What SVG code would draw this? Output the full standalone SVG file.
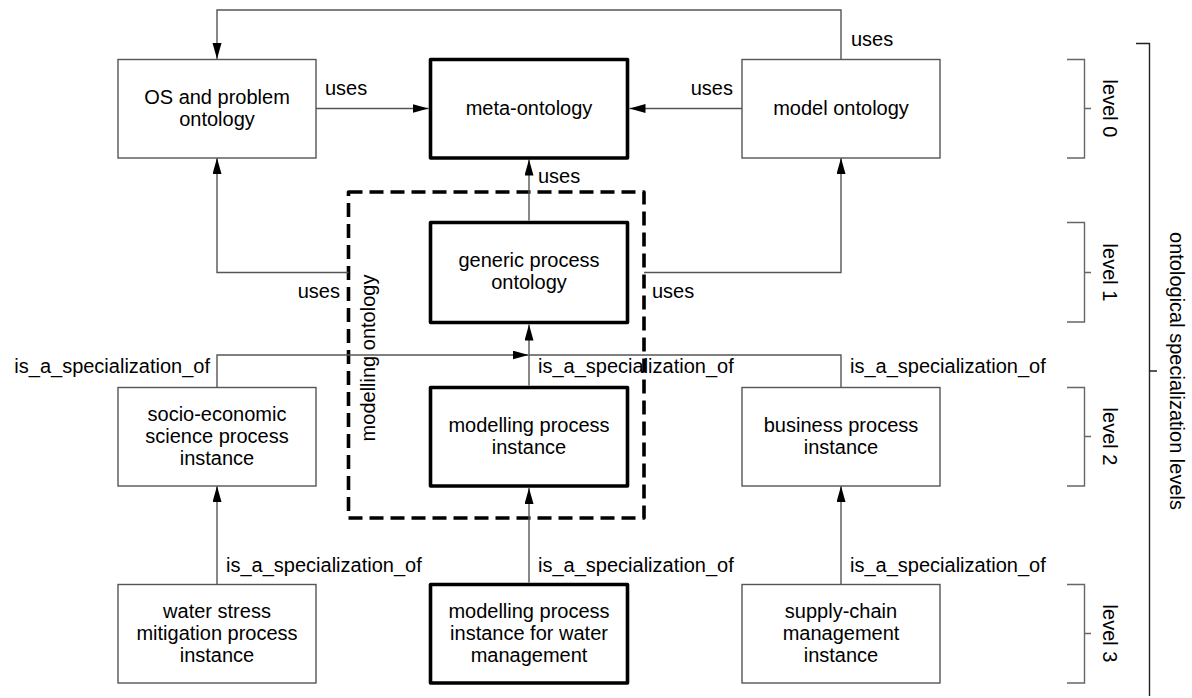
<svg xmlns="http://www.w3.org/2000/svg" width="1192" height="698" viewBox="0 0 1192 698">
  <defs>
    <style>
      text { font-family: "Liberation Sans", Arial, sans-serif; font-size: 20px; fill: #000; }
      .c { text-anchor: middle; }
      .e { text-anchor: end; }
      .box { fill: #fff; stroke: #555; stroke-width: 1.4; }
      .tbox { fill: #fff; stroke: #000; stroke-width: 3.6; stroke-linejoin: round; }
      .conn { fill: none; stroke: #555; stroke-width: 1.4; }
      .dash { fill: none; stroke: #000; stroke-width: 3.6; stroke-dasharray: 14 7; stroke-linejoin: round; }
      .brk { fill: none; stroke: #666; stroke-width: 1.4; }
      .bigbrk { fill: none; stroke: #222; stroke-width: 1.4; }
    </style>
    <marker id="arr" markerUnits="userSpaceOnUse" markerWidth="17" markerHeight="10" refX="16" refY="4.5" orient="auto">
      <path d="M0,0 L16,4.5 L0,9 z" fill="#000"/>
    </marker>
  </defs>
  <rect width="1192" height="698" fill="#fff"/>

  <g id="modelling-ontology">
    <rect class="dash" x="348.5" y="192" width="295.5" height="326"/>
    <text transform="translate(375,358) rotate(-90)" class="c">modelling ontology</text>
  </g>

  <g id="connectors">
    <polyline class="conn" points="841,59.5 841,10 217,10 217,59" marker-end="url(#arr)"/>
    <line class="conn" x1="316" y1="108.5" x2="428.5" y2="108.5" marker-end="url(#arr)"/>
    <line class="conn" x1="742" y1="108.5" x2="629.5" y2="108.5" marker-end="url(#arr)"/>
    <line class="conn" x1="529" y1="220.5" x2="529" y2="159.5" marker-end="url(#arr)"/>
    <polyline class="conn" points="348.5,272.5 217,272.5 217,158" marker-end="url(#arr)"/>
    <polyline class="conn" points="644,272.5 841,272.5 841,158" marker-end="url(#arr)"/>
    <polyline class="conn" points="217,387.5 217,355 528.5,355" marker-end="url(#arr)"/>
    <polyline class="conn" points="841,387.5 841,355 529,355"/>
    <line class="conn" x1="529" y1="385.5" x2="529" y2="324.5" marker-end="url(#arr)"/>
    <line class="conn" x1="529" y1="582.5" x2="529" y2="488" marker-end="url(#arr)"/>
    <line class="conn" x1="217" y1="584.5" x2="217" y2="486" marker-end="url(#arr)"/>
    <line class="conn" x1="841" y1="584.5" x2="841" y2="486" marker-end="url(#arr)"/>

    <text x="851" y="46">uses</text>
    <text x="325" y="95">uses</text>
    <text x="733" y="95" class="e">uses</text>
    <text x="538" y="183">uses</text>
    <text x="340" y="298" class="e">uses</text>
    <text x="652" y="298">uses</text>
    <text x="210" y="373" class="e">is_a_specialization_of</text>
    <text x="538" y="373">is_a_specialization_of</text>
    <text x="850" y="373">is_a_specialization_of</text>
    <text x="226" y="572">is_a_specialization_of</text>
    <text x="538" y="572">is_a_specialization_of</text>
    <text x="850" y="572">is_a_specialization_of</text>
  </g>

  <g id="os-problem-ontology">
    <rect class="box" x="118" y="59.5" width="198" height="98.5"/>
    <text x="217" y="104" class="c">OS and problem</text>
    <text x="217" y="126" class="c">ontology</text>
  </g>
  <g id="meta-ontology">
    <rect class="tbox" x="430.5" y="59.5" width="197" height="98.5"/>
    <text x="529" y="115" class="c">meta-ontology</text>
  </g>
  <g id="model-ontology">
    <rect class="box" x="742" y="59.5" width="198" height="98.5"/>
    <text x="841" y="115" class="c">model ontology</text>
  </g>
  <g id="generic-process-ontology">
    <rect class="tbox" x="430.5" y="222.5" width="197" height="100"/>
    <text x="529" y="266.5" class="c">generic process</text>
    <text x="529" y="288.5" class="c">ontology</text>
  </g>
  <g id="socio-economic">
    <rect class="box" x="118" y="387.5" width="198" height="98.5"/>
    <text x="217" y="421" class="c">socio-economic</text>
    <text x="217" y="443" class="c">science process</text>
    <text x="217" y="465" class="c">instance</text>
  </g>
  <g id="modelling-process-instance">
    <rect class="tbox" x="430.5" y="387.5" width="197" height="98.5"/>
    <text x="529" y="431.5" class="c">modelling process</text>
    <text x="529" y="453.5" class="c">instance</text>
  </g>
  <g id="business-process-instance">
    <rect class="box" x="742" y="387.5" width="198" height="98.5"/>
    <text x="841" y="431.5" class="c">business process</text>
    <text x="841" y="453.5" class="c">instance</text>
  </g>
  <g id="water-stress">
    <rect class="box" x="118" y="584.5" width="198" height="98.5"/>
    <text x="217" y="618" class="c">water stress</text>
    <text x="217" y="640" class="c">mitigation process</text>
    <text x="217" y="662" class="c">instance</text>
  </g>
  <g id="modelling-water-management">
    <rect class="tbox" x="430.5" y="584.5" width="197" height="98.5"/>
    <text x="529" y="618" class="c">modelling process</text>
    <text x="529" y="640" class="c">instance for water</text>
    <text x="529" y="662" class="c">management</text>
  </g>
  <g id="supply-chain">
    <rect class="box" x="742" y="584.5" width="198" height="98.5"/>
    <text x="841" y="618" class="c">supply-chain</text>
    <text x="841" y="640" class="c">management</text>
    <text x="841" y="662" class="c">instance</text>
  </g>

  <g id="levels">
    <path class="brk" d="M1067,59.5 H1084.5 V158 H1067 M1084.5,108.5 H1091"/>
    <text transform="translate(1103,108.5) rotate(90)" class="c">level 0</text>
    <path class="brk" d="M1067,222.5 H1084.5 V322 H1067 M1084.5,272.5 H1091"/>
    <text transform="translate(1103,272.5) rotate(90)" class="c">level 1</text>
    <path class="brk" d="M1067,387.5 H1084.5 V486 H1067 M1084.5,436.5 H1091"/>
    <text transform="translate(1103,436.5) rotate(90)" class="c">level 2</text>
    <path class="brk" d="M1067,584.5 H1084.5 V683 H1067 M1084.5,633.5 H1091"/>
    <text transform="translate(1103,633.5) rotate(90)" class="c">level 3</text>
    <path class="bigbrk" d="M1136,43.5 H1149.5 V696 M1149.5,371 H1157"/>
    <text transform="translate(1170,371) rotate(90)" class="c">ontological specialization levels</text>
  </g>
</svg>
